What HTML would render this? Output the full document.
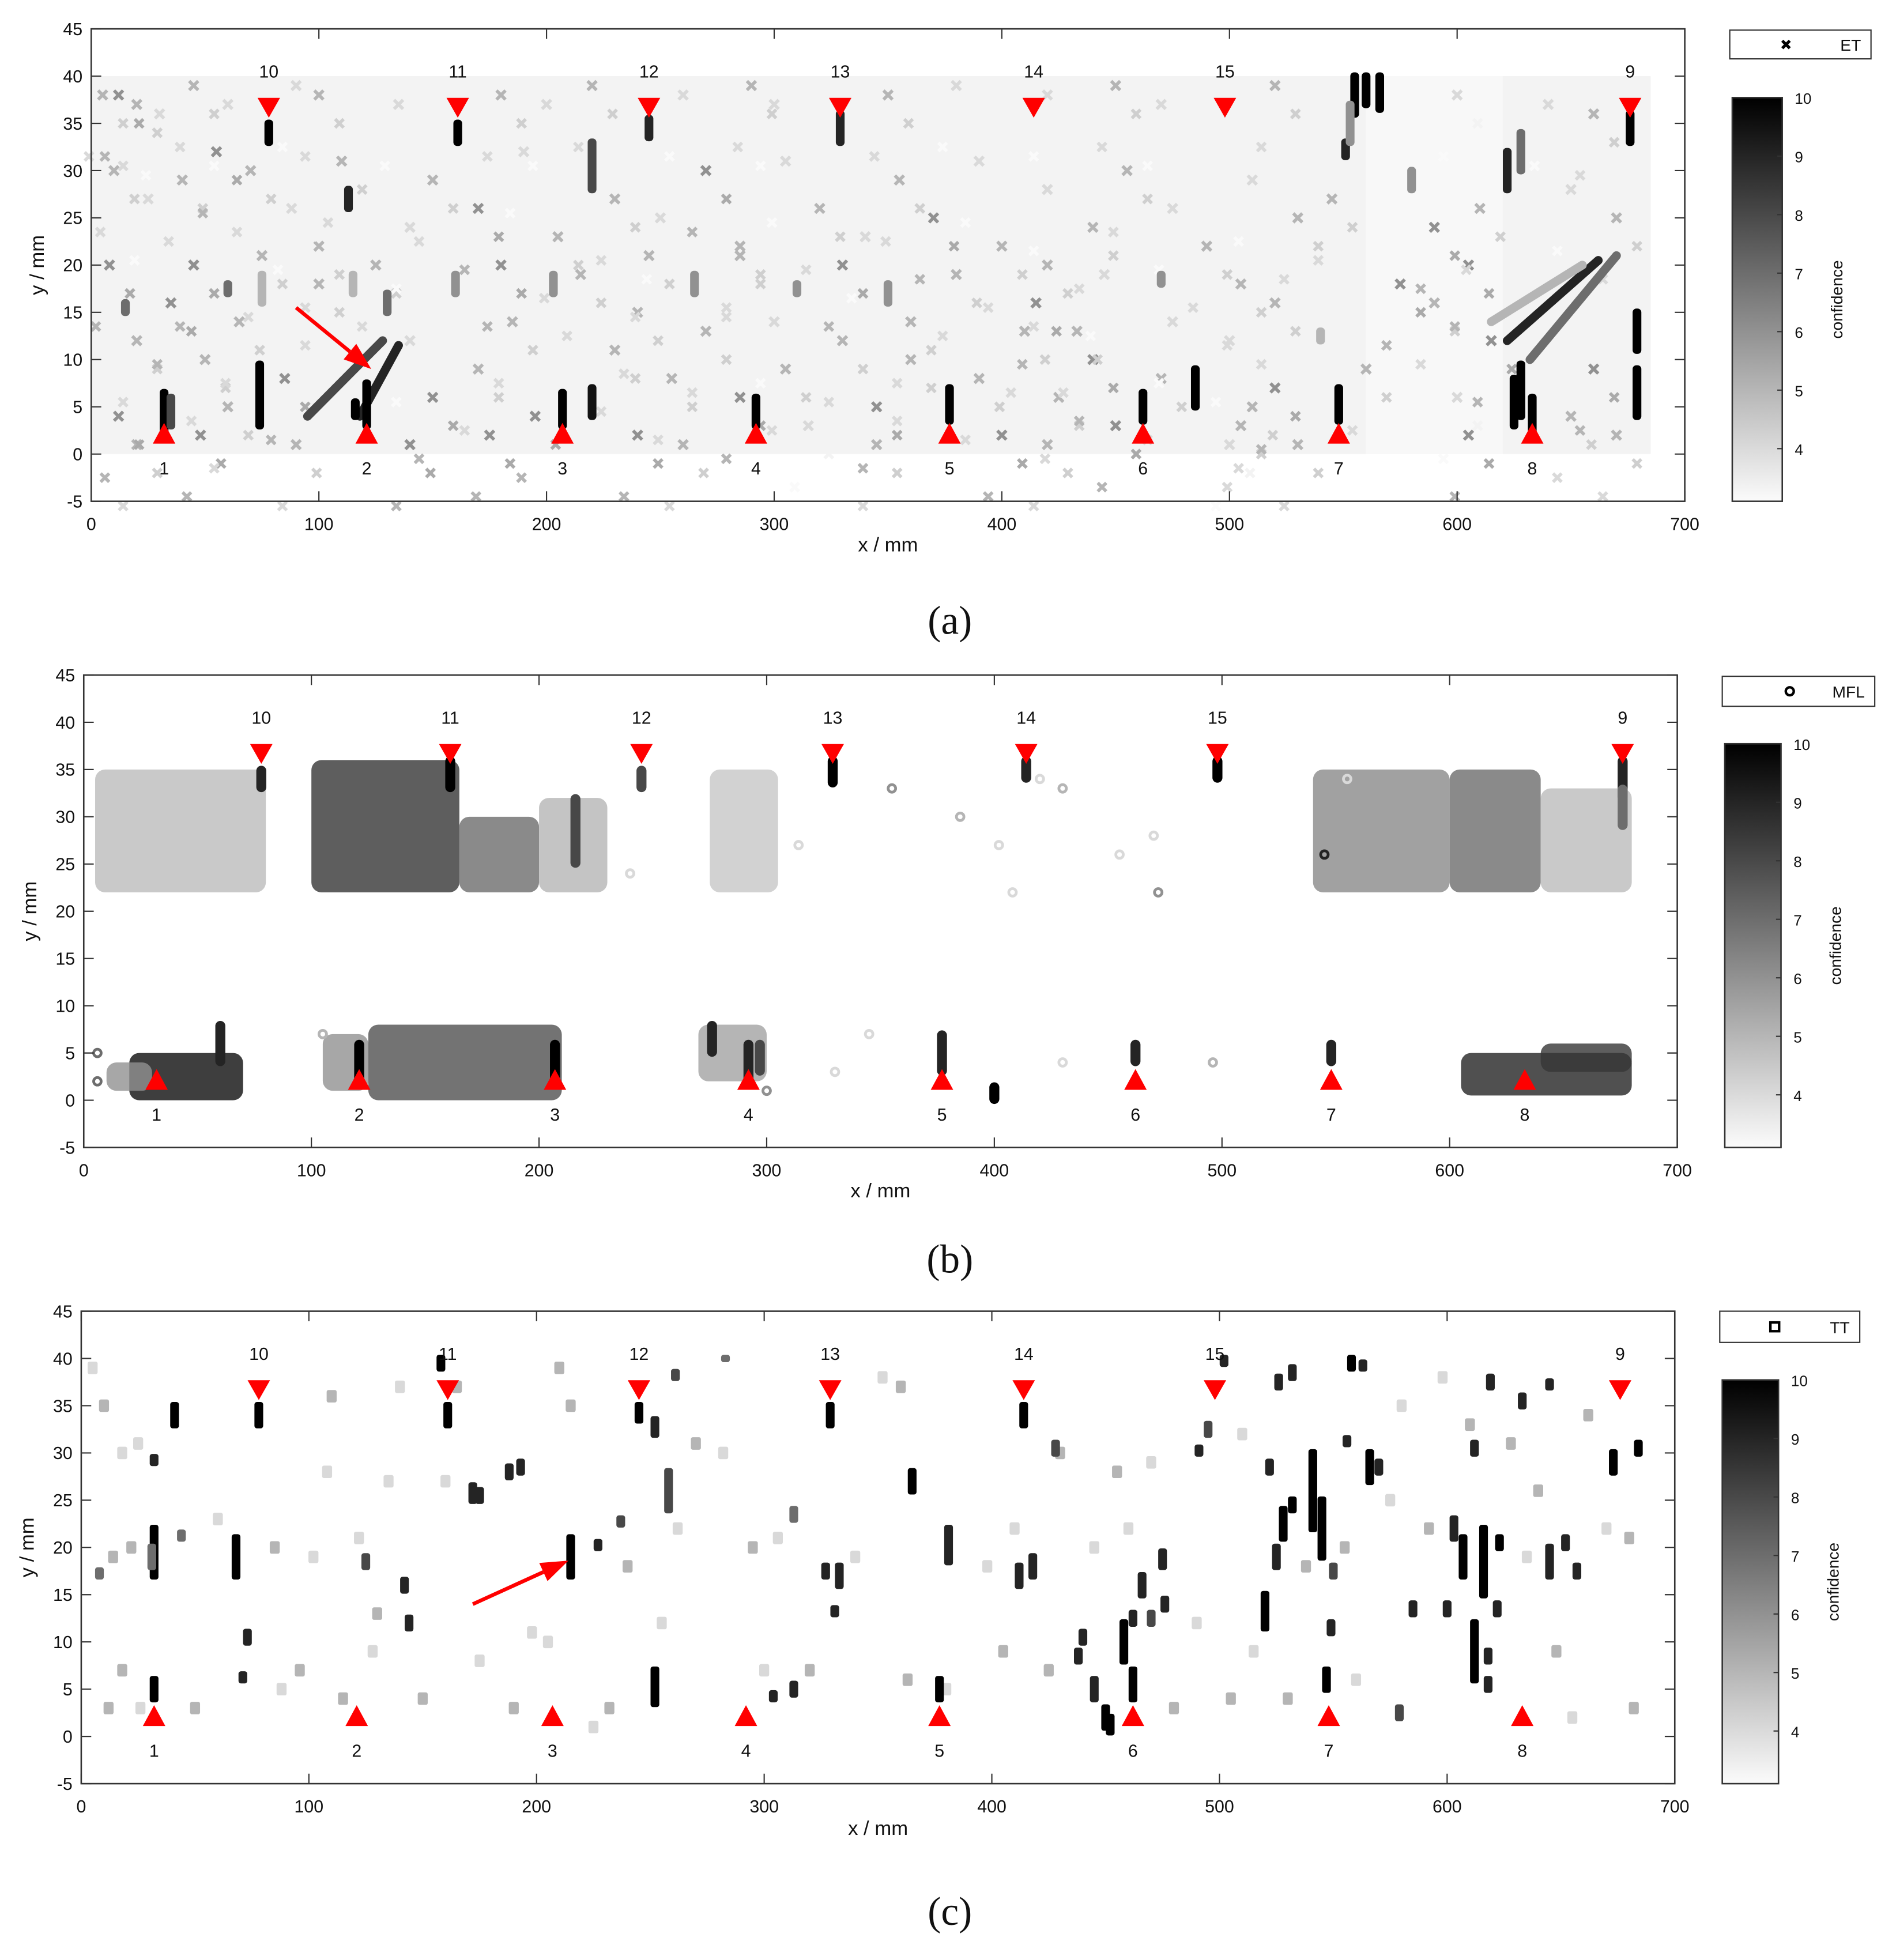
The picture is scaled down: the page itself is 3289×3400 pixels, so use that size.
<!DOCTYPE html>
<html><head><meta charset="utf-8">
<style>
html,body{margin:0;padding:0;background:#fff;}
svg{display:block;}
text{font-family:"Liberation Sans",sans-serif;fill:#111;}
.cap{font-family:"Liberation Serif",serif;}
</style></head>
<body>
<svg id="fig" width="3289" height="3400" viewBox="0 0 1517 1568" xmlns="http://www.w3.org/2000/svg">
<defs>
<linearGradient id="cbg" x1="0" y1="0" x2="0" y2="1">
<stop offset="0" stop-color="#000"/><stop offset="1" stop-color="#fbfbfb"/>
</linearGradient>
</defs>
</svg>
<script>
// ---------- data ----------
const xTicks = [0,100,200,300,400,500,600,700];
const yTicks = [-5,0,5,10,15,20,25,30,35,40,45];
const cbTicks = [4,5,6,7,8,9,10];
const bottomDefectIds = ["1","2","3","4","5","6","7","8"];
const bottomDefectX = [32,121,207,292,377,462,548,633];
const topDefectIds = ["10","11","12","13","14","15","9"];
const topDefectX = [78,161,245,329,414,498,676];
const sensorNames = ["ET","MFL","TT"];
const captions = ["(a)","(b)","(c)"];

// streaks: [x, y0, y1, confidence]
const streaksA = [[32,2,6.5,10],[35,3,6,8],[74,3,9.5,10],[121,3,7.5,10],[116,4,5.5,10],[207,3,6.5,10],[220,4,7,9.5],[292,3,6,10],[377,3.5,7,10],[462,3.5,6.5,10],[485,5,9,10],[548,3.5,7,10],[625,3,8,10],[628,4,9.5,10],[633,2.5,6,10],[679,4,9,10],[679,11,15,10],[78,33,35,10],[161,33,35,10],[245,33.5,35.5,9],[329,33,36,9],[220,28,33,8],[113,26,28,9],[622,28,32,9],[628,30,34,7],[555,36,40,10],[560,37,40,10],[566,36.5,40,10],[551,31.5,33,9],[553,33,37,6],[676,33,36,10],[580,28,30,6],[160,17,19,6],[130,15,17,7],[203,17,19,6],[265,17,19,6],[310,17,18,6],[350,16,18,6],[470,18,19,6],[60,17,18,7],[15,15,16,7],[75,16,19,5],[540,12,13,5],[115,17,19,5]];
const diagA = [[95,4,128,12,8],[118,4,135,11.5,9],[622,12,662,20.5,9],[632,10,670,21,7],[615,14,655,20,5]];
const faintA = [[5,38],[12,38],[20,37],[30,36],[45,39],[60,37],[90,39],[100,38],[135,37],[180,38],[200,37],[220,39],[260,38],[290,39],[300,37],[350,38],[380,39],[420,38],[450,39],[470,37],[520,39],[600,38],[640,37],[660,36],[10,30],[25,27],[40,29],[55,32],[70,30],[88,26],[100,22],[110,31],[140,24],[150,29],[170,26],[190,32],[205,23],[230,27],[250,25],[270,30],[285,22],[305,31],[320,26],[340,23],[355,29],[370,25],[390,31],[400,22],[420,28],[440,24],[455,30],[475,26],[490,22],[510,29],[530,25],[545,27],[590,24],[610,26],[650,28],[670,25],[8,20],[20,12],[35,16],[50,10],[65,14],[85,8],[100,18],[140,12],[150,6],[170,9],[185,14],[195,4],[230,11],[240,2],[255,8],[270,13],[285,6],[305,9],[315,3],[330,12],[345,5],[360,10],[390,8],[400,2],[410,13],[425,6],[440,10],[450,3],[470,8],[500,12],[505,3],[520,7],[530,1],[560,9],[600,6],[605,2],[615,12],[650,4],[660,9],[670,2],[12,4],[20,1],[48,2],[60,5],[90,1],[140,1],[175,2],[260,1],[345,1],[420,1],[500,1],[510,5],[45,20],[75,21],[125,20],[180,20],[215,19],[245,21],[285,21],[330,20],[380,19],[420,20],[445,19],[505,18],[590,16],[605,20],[415,16],[433,13],[240,15],[300,14],[360,14],[475,14],[520,16],[575,18]];
const faintAc = [5,6,5,4,5,4,4,5,4,5,4,5,4,5,4,5,4,4,5,4,5,4,4,5,5,4,5,6,5,4,5,5,4,5,6,4,5,5,4,6,5,4,5,4,5,6,4,5,4,5,5,4,5,4,5,5,6,5,4,5,6,5,6,5,5,6,5,4,6,5,5,6,5,6,5,5,6,5,4,5,6,5,5,6,5,5,6,6,5,4,5,6,5,5,4,6,6,5,6,5,6,5,6,5,5,6,6,5,5,5,4,5,6,5,5,6,5,5,5,6,5,5,4,5,5,6,6,5,5,4,5,4,5,6,5,4,5];
// haze region for the dense faint ET background [x0,x1,y0,y1,confidence]
const hazeA = [[0,560,0,40,3.3],[560,620,0,40,3.15],[620,685,0,40,3.3]];

const blobsB = [[5,80,22,35,4.8],[100,165,22,36,8.5],[165,200,22,30,7],[200,230,22,32,5],[275,305,22,35,4.5],[540,600,22,35,6.2],[600,640,22,35,7],[640,680,22,33,4.8],[20,70,0,5,9.6],[10,30,1,4,6],[105,125,1,7,6],[125,210,0,8,7.8],[270,300,2,8,5.5],[605,680,0.5,5,9],[640,680,3,6,8.5]];
const streaksB = [[78,33,35,9],[161,33,36,10],[245,33,35,8],[329,33.5,36,10],[414,34,36,9],[498,34,36,10],[676,32,36,9],[676,29,33,7],[121,2,6,10],[207,2,6,10],[292,2,6,9],[297,3,6,8],[377,3,7,9],[462,4,6,9],[548,4,6,9],[400,0,1.5,10],[60,4,8,9],[276,5,8,9],[216,25,32,8]];
const dotsB = [[355,33,6],[385,30,5],[402,27,4],[420,34,4],[430,33,5],[455,26,4],[470,28,4],[472,22,6],[545,26,9],[555,34,4],[430,4,4],[496,4,5],[330,3,4],[345,7,4],[300,1,6],[6,5,7],[6,2,7],[105,7,5],[240,24,4],[314,27,4],[408,22,4]];

const streaksC = [[32,4,6,10],[32,17,22,10],[41,33,35,10],[32,29,29.5,9],[68,17,21,10],[73,10,11,9],[71,6,6.5,9],[78,33,35,10],[161,33,35,10],[158,39,40,10],[172,25,26.5,9],[175,25,26,9],[188,27.5,28.5,9],[193,28,29,9],[142,15.5,16.5,9],[144,11.5,12.5,9],[215,17,21,10],[227,20,20.5,9],[237,22.5,23,8],[245,33.5,35,10],[252,32,33.5,9],[261,38,38.5,8],[258,24,28,8],[252,3.5,7,10],[304,4,4.5,9],[313,4.5,5.5,9],[329,33,35,10],[313,23,24,7],[327,17,18,9],[333,16,18,9],[331,13,13.5,9],[365,26,28,10],[377,4,6,10],[381,18.5,22,9],[414,33,35,10],[412,16,18,9],[418,17,19,9],[428,30,31,8],[440,10,11,9],[438,8,9,9],[445,4,6,9],[450,1,3,10],[452,0.5,2,10],[458,8,12,10],[462,4,7,10],[462,12,13,9],[466,15,17,9],[475,18,19.5,9],[476,13.5,14.5,9],[470,12,13,8],[491,30,30.5,9],[495,32,33,8],[502,39.5,40,9],[522,28,29,9],[526,37,38,9],[532,38,39,9],[520,11.5,15,10],[525,18,20,9],[528,21,24,10],[532,24,25,10],[541,22,30,10],[545,19,25,10],[549,11,12,9],[550,17,18,8],[547,5,7,10],[556,31,31.5,9],[558,39,40,10],[563,39,39.5,9],[566,27,30,10],[570,28,29,9],[585,13,14,9],[600,13,14,9],[603,21,23,9],[607,17,21,10],[612,30,31,9],[616,15,22,10],[612,6,12,10],[618,5,6,9],[618,8,9,9],[622,13,14,9],[623,20,21,10],[619,37,38,9],[633,35,36,9],[645,37,37.5,9],[645,17,20,9],[652,20,21,9],[657,17,18,9],[673,28,30,10],[684,30,31,10],[579,2,3,8],[44,21,21.5,7],[31,18,20,7],[125,18,19,8],[283,40,40,7],[8,17,17.5,7]];
const faintC = [[5,39],[10,35],[18,30],[25,31],[22,20],[14,19],[12,3],[18,7],[26,3],[50,3],[60,23],[85,20],[88,5],[96,7],[102,19],[108,28],[110,36],[115,4],[122,21],[128,9],[130,13],[135,27],[140,37],[150,4],[160,27],[165,37],[175,8],[190,3],[198,11],[205,10],[210,39],[215,35],[225,1],[232,3],[240,18],[255,12],[262,22],[270,31],[282,30],[295,20],[300,7],[306,21],[320,7],[340,19],[352,38],[360,37],[363,6],[380,5],[398,18],[405,9],[410,22],[425,7],[430,30],[445,20],[455,28],[460,22],[470,29],[480,3],[490,12],[505,4],[510,32],[515,9],[530,4],[538,18],[555,20],[560,6],[575,25],[580,35],[592,22],[598,38],[610,33],[628,31],[635,19],[640,26],[648,9],[655,2],[662,34],[670,22],[680,21],[682,3]];
const faintCc = [4,5,4,4,5,5,5,5,4,5,4,5,4,5,4,4,5,5,4,4,5,4,4,5,4,5,4,5,4,4,5,5,4,5,5,4,4,5,4,5,4,4,5,4,4,5,5,4,4,5,4,5,5,4,5,4,4,5,4,5,4,4,5,5,5,4,4,4,5,4,5,5,4,5,5,4,5,4,5,5];

// arrows [x0,y0,x1,y1] data coords
const arrowA = [90,15.5,123,9];
const arrowC = [172,14,214,18.6];

// ---------- drawing ----------
const NS = "http://www.w3.org/2000/svg";
const svg = document.getElementById("fig");
function mk(tag, attrs, parent) {
  const e = document.createElementNS(NS, tag);
  for (const k in attrs) e.setAttribute(k, attrs[k]);
  (parent || svg).appendChild(e);
  return e;
}
function gray(c) { const v = Math.max(0, Math.min(250, Math.round(250 * (1 - (c - 3.1) / 6.9)))); return `rgb(${v},${v},${v})`; }

const panels = [
  {L:73,R:1348,T:23,B:401, leg:[1384,24,113,23], cb:[1386,78,40,323], xl:441, cap:497, topLabY:40.5, botLabY:-1.5},
  {L:67,R:1342,T:540,B:918, leg:[1378,541,122,24], cb:[1380,595,45,323], xl:958, cap:1008, topLabY:40.5, botLabY:-1.5},
  {L:65,R:1340,T:1049,B:1427, leg:[1376,1049,112,25], cb:[1378,1104,45,323], xl:1468, cap:1530, topLabY:40.5, botLabY:-1.5}
];

panels.forEach((P, pi) => {
  const xs = x => P.L + x * (P.R - P.L) / 700;
  const ys = y => P.B - (y + 5) * (P.B - P.T) / 50;
  const g = mk("g", {});
  
  
  const marks = mk("g", {}, g);
  
  

  function xmark(x, y, c, sz) {
    const px = xs(x), py = ys(y), s = sz || 3.2;
    const p = mk("path", {d:`M${px-s},${py-s}L${px+s},${py+s}M${px-s},${py+s}L${px+s},${py-s}`, stroke:gray(c), "stroke-width":2.6}, marks);
    
    
  }
  function streak(s, w, rx) {
    const [x, y0, y1, c] = s;
    const r = mk("rect", {x:xs(x)-w/2, y:ys(y1)-3, width:w, height:ys(y0)-ys(y1)+6, rx:rx, fill:gray(c)}, marks);
    
    
  }

  if (pi === 0) {
    hazeA.forEach(h => {
      const r = mk("rect", {x:xs(h[0]), y:ys(h[3]), width:xs(h[1])-xs(h[0]), height:ys(h[2])-ys(h[3]), fill:gray(h[4])}, marks);
      
      
    });
    faintA.forEach((p, i) => xmark(p[0], p[1], faintAc[i], 3.6));
    faintA.forEach((p, i) => xmark(p[0] + 9, p[1] - 3, faintAc[i] - 0.7, 3.4));
    faintA.forEach((p, i) => xmark(p[0] - 6, p[1] - 6.5, faintAc[i] - 1, 3.4));
    diagA.forEach(d => {
      const l = mk("line", {x1:xs(d[0]), y1:ys(d[1]), x2:xs(d[2]), y2:ys(d[3]), stroke:gray(d[4]), "stroke-width":7, "stroke-linecap":"round"}, marks);
      
      
    });
    streaksA.forEach(s => streak(s, 7, 3));
  } else if (pi === 1) {
    blobsB.forEach(b => {
      const r = mk("rect", {x:xs(b[0]), y:ys(b[3]), width:xs(b[1])-xs(b[0]), height:ys(b[2])-ys(b[3]), rx:8, fill:gray(b[4]), opacity:0.8}, marks);
      
      
    });
    dotsB.forEach(d => {
      const c = mk("circle", {cx:xs(d[0]), cy:ys(d[1]), r:3, fill:"none", stroke:gray(d[2]), "stroke-width":2.2}, marks);
      
      
    });
    streaksB.forEach(s => streak(s, 8, 4));
  } else {
    faintC.forEach((p, i) => {
      const r = mk("rect", {x:xs(p[0])-4, y:ys(p[1])-5, width:8, height:10, rx:1.5, fill:gray(faintCc[i])}, marks);
      
      
    });
    streaksC.forEach(s => streak(s, 7, 2));
  }

  // triangles
  bottomDefectX.forEach((x, i) => {
    const px = xs(x), yb = ys(1.1), yt = ys(3.3);
    const t = mk("polygon", {points:`${px-9},${yb} ${px+9},${yb} ${px},${yt}`, fill:"#f00"}, g);
    
    
    const tx = mk("text", {x:px, y:ys(P.botLabY)+5, "text-anchor":"middle", "font-size":14}, g);
    tx.textContent = bottomDefectIds[i];
    
    
  });
  topDefectX.forEach((x, i) => {
    const px = xs(x), yt = ys(37.7), yb = ys(35.6);
    const t = mk("polygon", {points:`${px-9},${yt} ${px+9},${yt} ${px},${yb}`, fill:"#f00"}, g);
    
    
    const tx = mk("text", {x:px, y:ys(P.topLabY)+5, "text-anchor":"middle", "font-size":14}, g);
    tx.textContent = topDefectIds[i];
    
    
  });

  // arrow
  const ar = pi === 0 ? arrowA : (pi === 2 ? arrowC : null);
  if (ar) {
    const x0 = xs(ar[0]), y0 = ys(ar[1]), x1 = xs(ar[2]), y1 = ys(ar[3]);
    const ang = Math.atan2(y1 - y0, x1 - x0), hl = 22, hw = 8;
    const bx = x1 - hl * Math.cos(ang), by = y1 - hl * Math.sin(ang);
    const l = mk("line", {x1:x0, y1:y0, x2:bx, y2:by, stroke:"#f00", "stroke-width":3}, g);
    
    
    const h = mk("polygon", {points:`${x1},${y1} ${bx - hw*Math.sin(ang)},${by + hw*Math.cos(ang)} ${bx + hw*Math.sin(ang)},${by - hw*Math.cos(ang)}`, fill:"#f00"}, g);
    
    
  }

  // frame & ticks
  const fr = mk("rect", {x:P.L, y:P.T, width:P.R-P.L, height:P.B-P.T, fill:"none", stroke:"#333", "stroke-width":1.2}, g);
  
  
  xTicks.forEach(t => {
    const px = xs(t);
    mk("line", {x1:px, y1:P.B, x2:px, y2:P.B-8, stroke:"#333"}, g);
    mk("line", {x1:px, y1:P.T, x2:px, y2:P.T+8, stroke:"#333"}, g);
    const tx = mk("text", {x:px, y:P.B+23, "text-anchor":"middle", "font-size":14}, g);
    tx.textContent = t;
    
    
  });
  yTicks.forEach(t => {
    const py = ys(t);
    mk("line", {x1:P.L, y1:py, x2:P.L+8, y2:py, stroke:"#333"}, g);
    mk("line", {x1:P.R, y1:py, x2:P.R-8, y2:py, stroke:"#333"}, g);
    const tx = mk("text", {x:P.L-7, y:py+5, "text-anchor":"end", "font-size":14}, g);
    tx.textContent = t;
    
    
  });
  const xl = mk("text", {x:(P.L+P.R)/2, y:P.xl, "text-anchor":"middle", "font-size":16}, g);
  xl.textContent = "x / mm";
  
  
  const yc = (P.T + P.B) / 2, yx = P.L - 38;
  const yl = mk("text", {x:yx, y:yc, "text-anchor":"middle", "font-size":16, transform:`rotate(-90 ${yx} ${yc})`}, g);
  yl.textContent = "y / mm";
  
  

  // legend
  const [lx, ly, lw, lh] = P.leg;
  const lg = mk("g", {}, g);
  
  
  mk("rect", {x:lx, y:ly, width:lw, height:lh, fill:"#fff", stroke:"#333", "stroke-width":1}, lg);
  const mx = lx + lw - 68, my = ly + lh/2;
  if (pi === 0) mk("path", {d:`M${mx-3},${my-3}L${mx+3},${my+3}M${mx-3},${my+3}L${mx+3},${my-3}`, stroke:"#000", "stroke-width":2.4}, lg);
  else if (pi === 1) mk("circle", {cx:mx, cy:my, r:3.2, fill:"none", stroke:"#000", "stroke-width":2}, lg);
  else mk("rect", {x:mx-3.5, y:my-3.5, width:7, height:7, fill:"none", stroke:"#000", "stroke-width":2}, lg);
  const lt = mk("text", {x:lx+lw-8, y:my+5, "text-anchor":"end", "font-size":13}, lg);
  lt.textContent = sensorNames[pi];
  
  

  // colorbar
  const [cx, cy, cw, ch] = P.cb;
  const cb = mk("rect", {x:cx, y:cy, width:cw, height:ch, fill:"url(#cbg)", stroke:"#333", "stroke-width":1.2}, g);
  
  
  const cbY = v => cy + (10 - v) * ch / 6.9;
  cbTicks.forEach(t => {
    const py = cbY(t);
    mk("line", {x1:cx+cw-4, y1:py, x2:cx+cw, y2:py, stroke:"#333"}, g);
    const tx = mk("text", {x:cx+cw+10, y:py+5, "font-size":12}, g);
    tx.textContent = t;
    
    
  });
  const ccx = cx + cw + 48, ccy = cy + ch/2;
  const ct = mk("text", {x:ccx, y:ccy, "text-anchor":"middle", "font-size":13, transform:`rotate(-90 ${ccx} ${ccy})`}, g);
  ct.textContent = "confidence";
  
  

  const cap = mk("text", {x:760, y:P.cap+10, "text-anchor":"middle", "font-size":32, class:"cap"}, g);
  cap.textContent = captions[pi];
  
  
});
</script>
</body></html>
